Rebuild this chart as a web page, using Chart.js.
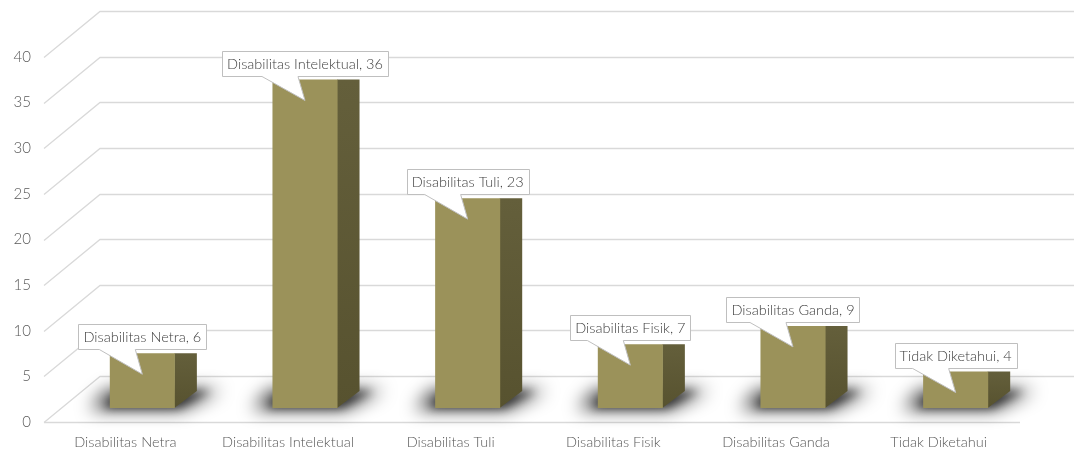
<!DOCTYPE html>
<html><head><meta charset="utf-8">
<script src="https://cdn.jsdelivr.net/npm/chart.js@4/dist/chart.umd.min.js"></script>
<style>html,body{margin:0;padding:0;background:#fff}#wrap{width:1074px;height:456px}</style>
</head><body><div id="wrap"><canvas id="c" width="1074" height="456"></canvas></div>
<script>
const categories = ['Disabilitas Netra','Disabilitas Intelektual','Disabilitas Tuli','Disabilitas Fisik','Disabilitas Ganda','Tidak Diketahui'];
const values = [6, 36, 23, 7, 9, 4];
const yTicks = [0, 5, 10, 15, 20, 25, 30, 35, 40];

const FONT = 'Lato';
const DEPTH_X = 56, DEPTH_Y = 46;      // floor depth (wall perspective)
const BAR_OFF_X = 17, BAR_OFF_Y = 14;  // bar front face offset into the floor
const BAR_DX = 22, BAR_DY = 17;        // bar depth
const GRID = '#d9d9d9';

const threeD = {
  id: 'threeD',
  beforeDatasetsDraw(chart) {
    const {ctx, chartArea: a, scales: {y}} = chart;
    ctx.save();
    ctx.strokeStyle = GRID; ctx.lineWidth = 1.3;
    yTicks.forEach(v => {
      const py = Math.round(y.getPixelForValue(v)) + 0.5;
      ctx.beginPath();
      ctx.moveTo(a.left, py);
      ctx.lineTo(a.left + DEPTH_X, py - DEPTH_Y);
      ctx.lineTo(chart.width, py - DEPTH_Y);
      ctx.stroke();
    });
    const p0 = Math.round(y.getPixelForValue(0)) + 0.5;
    ctx.beginPath(); ctx.moveTo(a.left, p0); ctx.lineTo(a.right, p0); ctx.stroke();

    // shadows and side faces
    const meta = chart.getDatasetMeta(0);
    meta.data.forEach(el => {
      const x0 = el.x - el.width / 2 + BAR_OFF_X, x1 = el.x + el.width / 2 + BAR_OFF_X;
      const base = el.base - BAR_OFF_Y;
      ctx.save();
      ctx.filter = 'blur(9px)';
      ctx.fillStyle = 'rgba(0,0,0,0.8)';
      ctx.beginPath();
      ctx.moveTo(x0 - 20, base + 1);
      ctx.lineTo(x1 + 6, base + 1);
      ctx.lineTo(x1 + 46, base - BAR_DY - 1);
      ctx.lineTo(x0 - 2, base - BAR_DY - 1);
      ctx.closePath(); ctx.fill();
      ctx.filter = 'blur(4px)';
      ctx.fillStyle = 'rgba(0,0,0,0.5)';
      ctx.beginPath();
      ctx.moveTo(x0 - 6, base);
      ctx.lineTo(x1 + 4, base);
      ctx.lineTo(x1 + BAR_DX + 14, base - BAR_DY);
      ctx.lineTo(x0 + 8, base - BAR_DY);
      ctx.closePath(); ctx.fill();
      ctx.restore();
    });
    meta.data.forEach(el => {
      const x1 = el.x + el.width / 2 + BAR_OFF_X;
      const base = el.base - BAR_OFF_Y, top = el.y - BAR_OFF_Y;
      const g = ctx.createLinearGradient(0, top, 0, base);
      g.addColorStop(0, '#645f3b'); g.addColorStop(1, '#57522f');
      ctx.fillStyle = g;
      ctx.beginPath();
      ctx.moveTo(x1 - 0.5, top);
      ctx.lineTo(x1 + BAR_DX, top);
      ctx.lineTo(x1 + BAR_DX, base - BAR_DY);
      ctx.lineTo(x1 - 0.5, base);
      ctx.closePath(); ctx.fill();
    });
    ctx.restore();
  },
  beforeDatasetDraw(chart) {
    chart.ctx.save();
    chart.ctx.translate(BAR_OFF_X, -BAR_OFF_Y);
  },
  afterDatasetDraw(chart) {
    chart.ctx.restore();
  },
  afterDatasetsDraw(chart) {
    const {ctx} = chart;
    const meta = chart.getDatasetMeta(0);
    ctx.save();
    ctx.font = '300 14.5px ' + FONT;
    meta.data.forEach((el, i) => {
      const cx = el.x + BAR_OFF_X, top = el.y - BAR_OFF_Y;
      const txt = categories[i] + ', ' + values[i];
      const w = ctx.measureText(txt).width + 10, h = 25;
      const bb = Math.round(top - 4) + 0.5, bt = bb - h;
      const l = Math.round(cx - w / 2) + 0.5, r = l + Math.round(w);
      ctx.beginPath();
      ctx.moveTo(l, bt); ctx.lineTo(r, bt); ctx.lineTo(r, bb);
      ctx.lineTo(cx - 7, bb); ctx.lineTo(cx, top + 21); ctx.lineTo(cx - 43, bb);
      ctx.lineTo(l, bb); ctx.closePath();
      ctx.fillStyle = '#ffffff'; ctx.fill();
      ctx.strokeStyle = '#bfbfbf'; ctx.lineWidth = 1; ctx.stroke();
      ctx.fillStyle = '#404040'; ctx.textAlign = 'center'; ctx.textBaseline = 'middle';
      ctx.fillText(txt, cx, bt + h / 2 + 0.5);
    });
    ctx.restore();
  }
};

function faceColor(c) {
  const chart = c.chart;
  const el = chart.getDatasetMeta(0).data[c.dataIndex];
  if (!el || !isFinite(el.x)) return '#9b925a';
  const g = chart.ctx.createLinearGradient(el.x - el.width / 2, 0, el.x + el.width / 2, 0);
  g.addColorStop(0, '#8c8451');
  g.addColorStop(0.55, '#a1985f');
  g.addColorStop(1, '#9a9159');
  return g;
}

new Chart(document.getElementById('c'), {
  type: 'bar',
  data: {
    labels: categories,
    datasets: [{
      data: values,
      backgroundColor: faceColor,
      borderWidth: 0,
      categoryPercentage: 1,
      barPercentage: 0.4
    }]
  },
  plugins: [threeD],
  options: {
    responsive: false,
    animation: false,
    devicePixelRatio: 1,
    layout: {padding: {top: 57, right: 54, left: 0, bottom: 0}},
    plugins: {legend: {display: false}, tooltip: {enabled: false}},
    scales: {
      x: {
        grid: {display: false, drawTicks: false},
        border: {display: false},
        ticks: {color: '#595959', font: {family: FONT, size: 14.5, weight: '300'}, padding: 12, maxRotation: 0},
        afterFit(s) { s.height = 34; }
      },
      y: {
        min: 0, max: 40,
        grid: {display: false, drawTicks: false},
        border: {display: false},
        ticks: {stepSize: 5, color: '#595959', font: {family: FONT, size: 15, weight: '300'}, padding: 13},
        afterFit(s) { s.width = 44; }
      }
    }
  }
});
</script>
</body></html>
